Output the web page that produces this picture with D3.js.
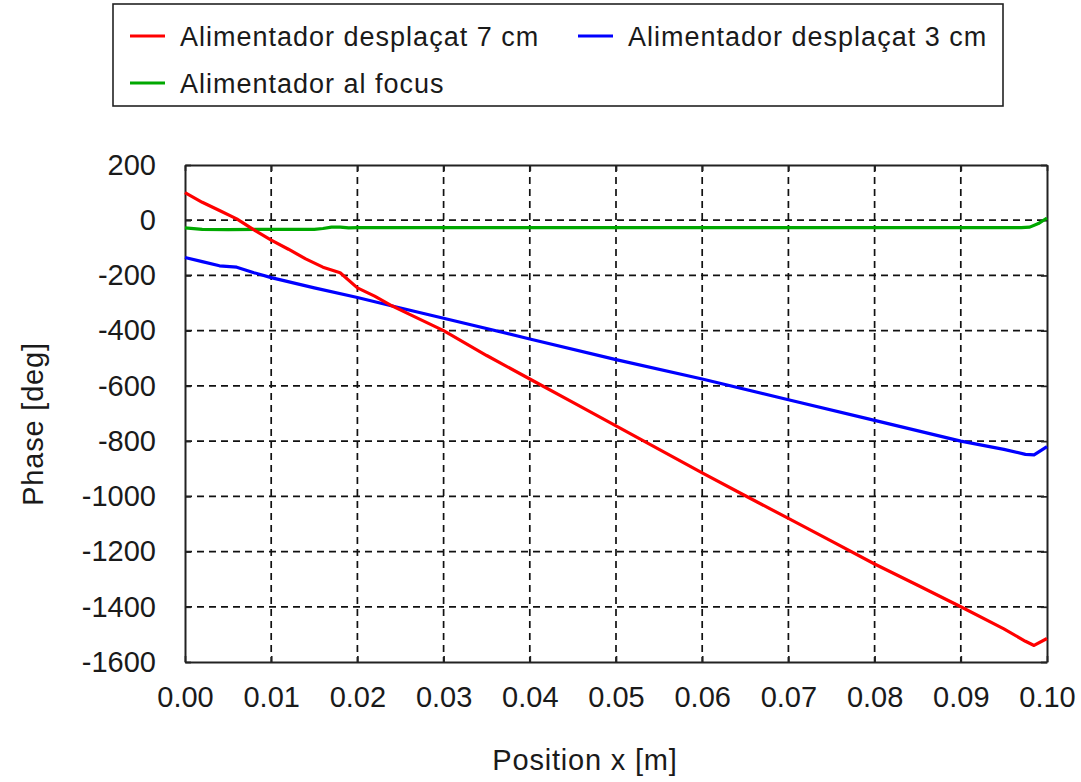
<!DOCTYPE html>
<html><head><meta charset="utf-8">
<script src="https://cdn.jsdelivr.net/npm/d3@7"></script>
<style>
body{margin:0;background:#fff;}
text{font-family:"Liberation Sans",Arial,sans-serif;fill:#1a1a1a;}
</style></head>
<body><svg id="c" width="1081" height="782"></svg>
<script>
const xTicks = [0,0.01,0.02,0.03,0.04,0.05,0.06,0.07,0.08,0.09,0.10];
const yTicks = [200,0,-200,-400,-600,-800,-1000,-1200,-1400,-1600];
const seriesNames = ["Alimentador desplaçat 7 cm","Alimentador desplaçat 3 cm","Alimentador al focus"];
const seriesColors = ["#ff0000","#0000ff","#00a800"];
const redX  = [0,0.002,0.004,0.006,0.008,0.010,0.012,0.014,0.016,0.018,0.020,0.022,0.024,0.026,0.028,0.030,0.035,0.040,0.045,0.050,0.055,0.060,0.065,0.070,0.075,0.080,0.085,0.090,0.095,0.0975,0.0985,0.1];
const redY  = [100,65,35,5,-35,-72,-105,-140,-170,-190,-245,-275,-310,-340,-370,-400,-490,-575,-660,-745,-830,-915,-998,-1080,-1162,-1245,-1322,-1400,-1480,-1525,-1540,-1515];
const blueX = [0,0.002,0.004,0.006,0.008,0.010,0.015,0.020,0.025,0.030,0.040,0.050,0.060,0.070,0.080,0.090,0.095,0.0975,0.0985,0.1];
const blueY = [-135,-150,-165,-170,-190,-208,-245,-280,-318,-355,-430,-505,-575,-650,-725,-800,-830,-848,-850,-820];
const greenX = [0,0.002,0.005,0.010,0.015,0.016,0.017,0.018,0.019,0.020,0.040,0.060,0.080,0.097,0.098,0.099,0.1];
const greenY = [-28,-33,-34,-33,-33,-30,-25,-25,-28,-27,-27,-27,-27,-27,-25,-12,8];

const svg = d3.select("#c");
const L=185,R=1047,T=165,B=662;
const x = d3.scaleLinear().domain([0,0.1]).range([L,R]);
const y = d3.scaleLinear().domain([-1600,200]).range([B,T]);

// grid
const g = svg.append("g");
g.selectAll(".gx").data(xTicks.slice(1,-1)).join("line")
  .attr("x1",d=>x(d)).attr("x2",d=>x(d)).attr("y1",T).attr("y2",B)
  .attr("stroke","#111").attr("stroke-width",1.7).attr("stroke-dasharray","7,5");
g.selectAll(".gy").data(yTicks.slice(1,-1)).join("line")
  .attr("y1",d=>y(d)).attr("y2",d=>y(d)).attr("x1",L).attr("x2",R)
  .attr("stroke","#111").attr("stroke-width",1.7).attr("stroke-dasharray","7,5");

// axes
const ax = svg.append("g").attr("transform",`translate(0,${B})`)
  .call(d3.axisBottom(x).tickValues(xTicks).tickFormat(d3.format(".2f")).tickSizeInner(-6).tickSizeOuter(0).tickPadding(24));
const ay = svg.append("g").attr("transform",`translate(${L},0)`)
  .call(d3.axisLeft(y).tickValues(yTicks).tickFormat(d=>String(d)).tickSizeInner(-6).tickSizeOuter(0).tickPadding(29));
const at = svg.append("g").attr("transform",`translate(0,${T})`)
  .call(d3.axisTop(x).tickValues(xTicks).tickFormat("").tickSizeInner(-6).tickSizeOuter(0));
const ar = svg.append("g").attr("transform",`translate(${R},0)`)
  .call(d3.axisRight(y).tickValues(yTicks).tickFormat("").tickSizeInner(-6).tickSizeOuter(0));
[ax,ay,at,ar].forEach(a=>{
  a.selectAll(".domain").attr("stroke","#222").attr("stroke-width",2);
  a.selectAll(".tick line").attr("stroke","#222").attr("stroke-width",1.7);
  a.selectAll("text").style("font-family","Liberation Sans, Arial, sans-serif").style("font-size","29px").attr("fill","#222");
});
ax.selectAll("text").attr("dy","0.71em");

// lines
const line = d3.line().x(d=>x(d[0])).y(d=>y(d[1]));
const data = [d3.zip(redX,redY), d3.zip(blueX,blueY), d3.zip(greenX,greenY)];
svg.append("g").selectAll("path").data([data[2],data[1],data[0]]).join("path")
  .attr("d",line).attr("fill","none")
  .attr("stroke",(d,i)=>[seriesColors[2],seriesColors[1],seriesColors[0]][i])
  .attr("stroke-width",3.2).attr("stroke-linejoin","round");

// titles
svg.append("text").attr("x",585).attr("y",770).attr("text-anchor","middle")
  .style("font-size","29px").attr("letter-spacing","0.8").text("Position x [m]");
svg.append("text").attr("transform","translate(43,424) rotate(-90)").attr("text-anchor","middle")
  .style("font-size","29px").attr("letter-spacing","0.8").text("Phase [deg]");

// legend
svg.append("rect").attr("x",113).attr("y",4).attr("width",890).attr("height",102)
  .attr("fill","#fff").attr("stroke","#222").attr("stroke-width",1.6);
const legPos = [[130,36],[578,36],[130,83]];
seriesNames.forEach((n,i)=>{
  const [lx,ly]=legPos[i];
  svg.append("line").attr("x1",lx).attr("x2",lx+35).attr("y1",ly).attr("y2",ly)
    .attr("stroke",seriesColors[i]).attr("stroke-width",3);
  svg.append("text").attr("x",lx+50).attr("y",ly).attr("dy","0.36em")
    .style("font-size","27px").attr("letter-spacing","1").text(n);
});
</script></body></html>
